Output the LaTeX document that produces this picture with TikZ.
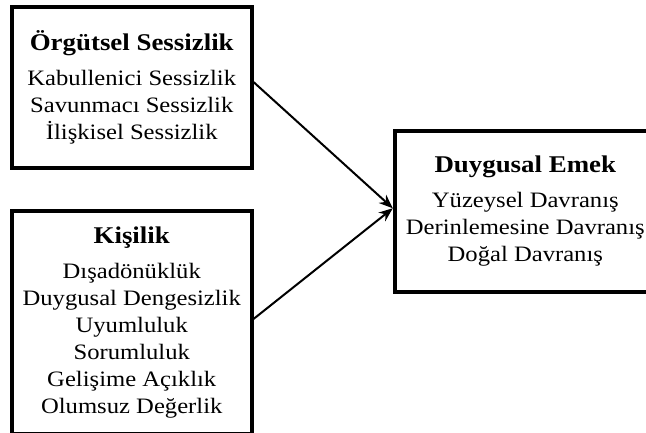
\documentclass[tikz,border=0pt]{standalone}
\usepackage{fontspec}
\setmainfont{Liberation Serif}[FakeStretch=1.12]
\usetikzlibrary{arrows.meta,positioning}

\newcommand{\baslik}[1]{{\bfseries\fontsize{24}{27}\selectfont #1}\\[8pt]}

\begin{document}
\begin{tikzpicture}[
	x=1pt, y=-1pt,
	node distance=39pt,
	kutu/.style={
		rectangle,
		draw=black,
		line width=4pt,
		minimum width=239.5pt,
		inner sep=0pt,
		align=center,
		font={\fontsize{22}{27}\selectfont}
	},
	arrow/.style={
		-{Stealth[length=14pt,width=11pt]},
		line width=2pt,
		draw=black
	}
	]
	\useasboundingbox (0,0) rectangle (646,432);
	
	% sol kutular
	\node[kutu, minimum height=161pt] (sessizlik) at (131.75,87.5) {\baslik{Örgütsel Sessizlik}Kabullenici Sessizlik\\Savunmacı Sessizlik\\İlişkisel Sessizlik};
	\node[kutu, minimum height=223pt, below=of sessizlik] (kisilik) {\baslik{Kişilik}Dışadönüklük\\Duygusal Dengesizlik\\Uyumluluk\\Sorumluluk\\Gelişime Açıklık\\Olumsuz Değerlik};
	
	% sağ kutu
	\node[kutu, minimum width=261pt, minimum height=161.5pt] (emek) at (525.3,211.25) {\baslik{Duygusal Emek}Yüzeysel Davranış\\Derinlemesine Davranış\\Doğal Davranış};
	
	% oklar
	\draw[arrow] ([yshift=5.5pt]sessizlik.east) -- ([yshift=3pt]emek.west);
	\draw[arrow] ([yshift=3.5pt]kisilik.east) -- ([yshift=3pt]emek.west);
\end{tikzpicture}
\end{document}
